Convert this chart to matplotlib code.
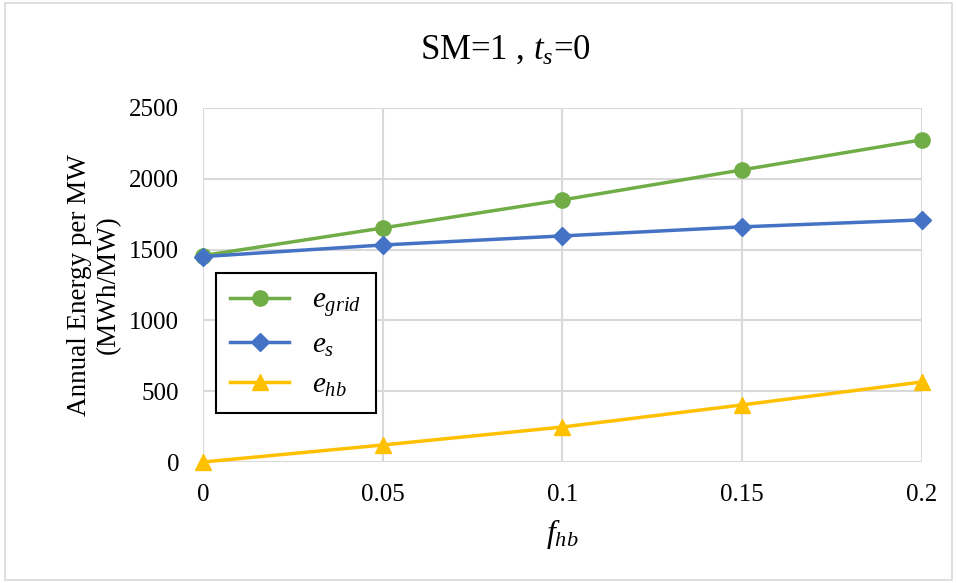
import numpy as np
import matplotlib.pyplot as plt
from matplotlib.patches import Rectangle

plt.rcParams['font.family'] = 'Liberation Serif'
plt.rcParams['mathtext.fontset'] = 'custom'
plt.rcParams['mathtext.rm'] = 'Liberation Serif'
plt.rcParams['mathtext.it'] = 'Liberation Serif:italic'

# Data
f_hb = [0, 0.05, 0.1, 0.15, 0.2]
e_grid = [1457, 1652, 1850, 2062, 2274]
e_s = [1450, 1532, 1596, 1660, 1709]
e_hb = [0, 120, 247, 403, 565]
x_ticks = [0, 0.05, 0.1, 0.15, 0.2]
x_labels = ['0', '0.05', '0.1', '0.15', '0.2']
y_ticks = [0, 500, 1000, 1500, 2000, 2500]

fig = plt.figure(figsize=(9.57, 5.83), dpi=100)
ax = fig.add_axes([0.212, 0.2075, 0.751, 0.6075])

ax.plot(f_hb, e_grid, color='#70ad47', lw=2.5, marker='o', ms=11, label='$e_{grid}$', zorder=3, clip_on=False)
ax.plot(f_hb, e_s, color='#4472c4', lw=2.5, marker='D', ms=9, label='$e_{s}$', zorder=3, clip_on=False)
ax.plot(f_hb, e_hb, color='#ffc000', lw=2.5, marker='^', ms=11, label='$e_{hb}$', zorder=3, clip_on=False)

ax.set_xlim(0, 0.2)
ax.set_ylim(0, 2500)
ax.set_xticks(x_ticks)
ax.set_xticklabels(x_labels)
ax.set_yticks(y_ticks)
ax.tick_params(axis='x', length=0, labelsize=18, pad=16)
ax.tick_params(axis='y', length=0, labelsize=18, pad=17)
ax.grid(color='#d9d9d9', lw=1.5)
ax.set_axisbelow(True)
for sp in ax.spines.values():
  sp.set_visible(False)

ax.set_xlabel('$f_{hb}$', fontsize=23, labelpad=8)
ax.set_ylabel('Annual Energy per MW\n(MWh/MW)', fontsize=19.5, labelpad=6, linespacing=1.2)

fig.text(0.528, 0.914, 'SM=1 , $t_s$=0', fontsize=25, ha='center', va='center')

leg = ax.legend(loc='lower left', bbox_to_anchor=(0.018, 0.138), fontsize=21,
                fancybox=False, edgecolor='black', framealpha=1, borderpad=0.5,
                handlelength=2.0, labelspacing=0.45, borderaxespad=0, handletextpad=0.8)
leg.get_frame().set_linewidth(1.5)

fig.patches.append(Rectangle((0.005, 0.005), 0.99, 0.99, transform=fig.transFigure,
                             fill=False, edgecolor='#d9d9d9', lw=1.2))

fig.savefig('out.png', dpi=100)
